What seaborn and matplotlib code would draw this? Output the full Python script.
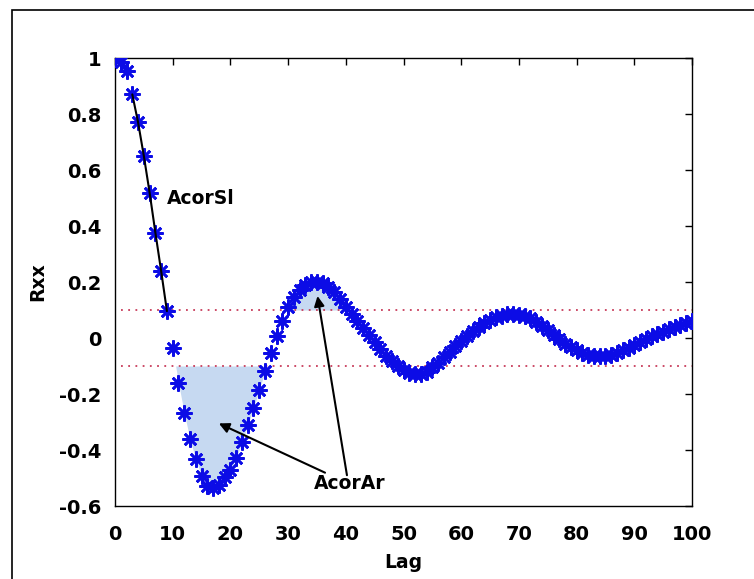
import numpy as np
import matplotlib
matplotlib.use("Agg")
import matplotlib.pyplot as plt
from matplotlib.patches import Rectangle
import seaborn as sns

# ---- data ----
lags = list(range(0, 101))
rxx = [
    1.0, 0.985, 0.954, 0.87, 0.77, 0.65, 0.519, 0.376, 0.239, 0.096,      # 0-9
    -0.037, -0.16, -0.268, -0.362, -0.433, -0.493, -0.527, -0.537, -0.525, -0.497,  # 10-19
    -0.47, -0.43, -0.37, -0.312, -0.249, -0.185, -0.117, -0.055, 0.007, 0.061,  # 20-29
    0.112, 0.145, 0.172, 0.19, 0.199, 0.2, 0.195, 0.183, 0.163, 0.138,   # 30-39
    0.11, 0.085, 0.06, 0.035, 0.01, -0.015, -0.04, -0.063, -0.083, -0.1,  # 40-49
    -0.115, -0.125, -0.13, -0.13, -0.122, -0.105, -0.088, -0.068, -0.05, -0.03,  # 50-59
    -0.01, 0.008, 0.025, 0.04, 0.053, 0.065, 0.074, 0.08, 0.084, 0.085,  # 60-69
    0.083, 0.078, 0.07, 0.058, 0.044, 0.03, 0.012, -0.005, -0.02, -0.033,  # 70-79
    -0.044, -0.053, -0.059, -0.063, -0.065, -0.064, -0.06, -0.053, -0.044, -0.034,  # 80-89
    -0.025, -0.014, -0.004, 0.006, 0.015, 0.023, 0.031, 0.039, 0.047, 0.055,  # 90-99
    0.062,                                                                 # 100
]
threshold = 0.1
slope_lags = [3, 9]
xticks = [0, 10, 20, 30, 40, 50, 60, 70, 80, 90, 100]
yticks = [-0.6, -0.4, -0.2, 0, 0.2, 0.4, 0.6, 0.8, 1]
ytick_labels = ["-0.6", "-0.4", "-0.2", "0", "0.2", "0.4", "0.6", "0.8", "1"]

sns.set_theme(style="white")
plt.rcParams["font.family"] = ["DejaVu Sans"]

fig = plt.figure(figsize=(7.54, 5.79), dpi=100)
ax = fig.add_axes([115 / 754, 1 - 506 / 579, (692 - 115) / 754, (506 - 58) / 579])

x = np.array(lags, dtype=float)
y = np.array(rxx)

# shaded areas (first negative lobe and first positive lobe beyond the thresholds)
m1 = (x >= 9) & (x <= 27)
ax.fill_between(x[m1], y[m1], -threshold, where=y[m1] < -threshold,
                interpolate=True, color="#c6d9f1", lw=0, zorder=1)
m2 = (x >= 29) & (x <= 41)
ax.fill_between(x[m2], y[m2], threshold, where=y[m2] > threshold,
                interpolate=True, color="#c6d9f1", lw=0, zorder=1)

# threshold lines
for t in (threshold, -threshold):
    ax.plot([1, 100], [t, t], linestyle=(0, (1, 3)), color="#c83c5a", lw=1.3, zorder=2)

# autocorrelation markers
sns.lineplot(x=lags, y=rxx, ax=ax, linestyle="none", marker=(8, 2, 0),
             markersize=11.5, markeredgewidth=1.9, color="#0c0ce6",
             markeredgecolor="#0c0ce6", zorder=3)

# slope line
sl = slice(slope_lags[0], slope_lags[1] + 1)
ax.plot(x[sl], y[sl], color="black", lw=1.5, zorder=4)

# annotations
tfont = dict(fontsize=13.5, fontweight="bold", color="black")
ax.text(9.0, 0.5, "AcorSl", va="center", ha="left", **tfont, zorder=5)
ax.text(34.5, -0.52, "AcorAr", va="center", ha="left", **tfont, zorder=5)
ap = dict(arrowstyle="-|>", color="black", lw=1.5, mutation_scale=15,
          shrinkA=0, shrinkB=0)
ax.annotate("", xy=(18.0, -0.305), xytext=(36.4, -0.481), arrowprops=ap, zorder=5)
ax.annotate("", xy=(35.1, 0.15), xytext=(40.2, -0.49), arrowprops=ap, zorder=5)

ax.set_xlim(0, 100)
ax.set_ylim(-0.6, 1)
ax.set_xticks(xticks)
ax.set_xticklabels([str(v) for v in xticks])
ax.set_yticks(yticks)
ax.set_yticklabels(ytick_labels)
ax.tick_params(direction="in", length=5, width=1, colors="black",
               top=True, right=True, labelsize=14)
ax.tick_params(axis="x", pad=14)
ax.tick_params(axis="y", pad=10)
for lab in ax.get_xticklabels() + ax.get_yticklabels():
    lab.set_fontweight("bold")
for s in ax.spines.values():
    s.set_color("black")
    s.set_linewidth(1.0)
ax.set_xlabel("Lag", fontsize=13.5, fontweight="bold", labelpad=6, color="black")
ax.set_ylabel("Rxx", fontsize=13.5, fontweight="bold", labelpad=8, color="black")
ax.set_facecolor("white")
fig.patch.set_facecolor("white")

# outer frame
fig.add_artist(Rectangle((12 / 754, -0.1), 1.2, (1 - 10 / 579) + 0.1,
                         transform=fig.transFigure, fill=False, ec="black",
                         lw=1.2, clip_on=False))

fig.savefig("out.png", dpi=100)
